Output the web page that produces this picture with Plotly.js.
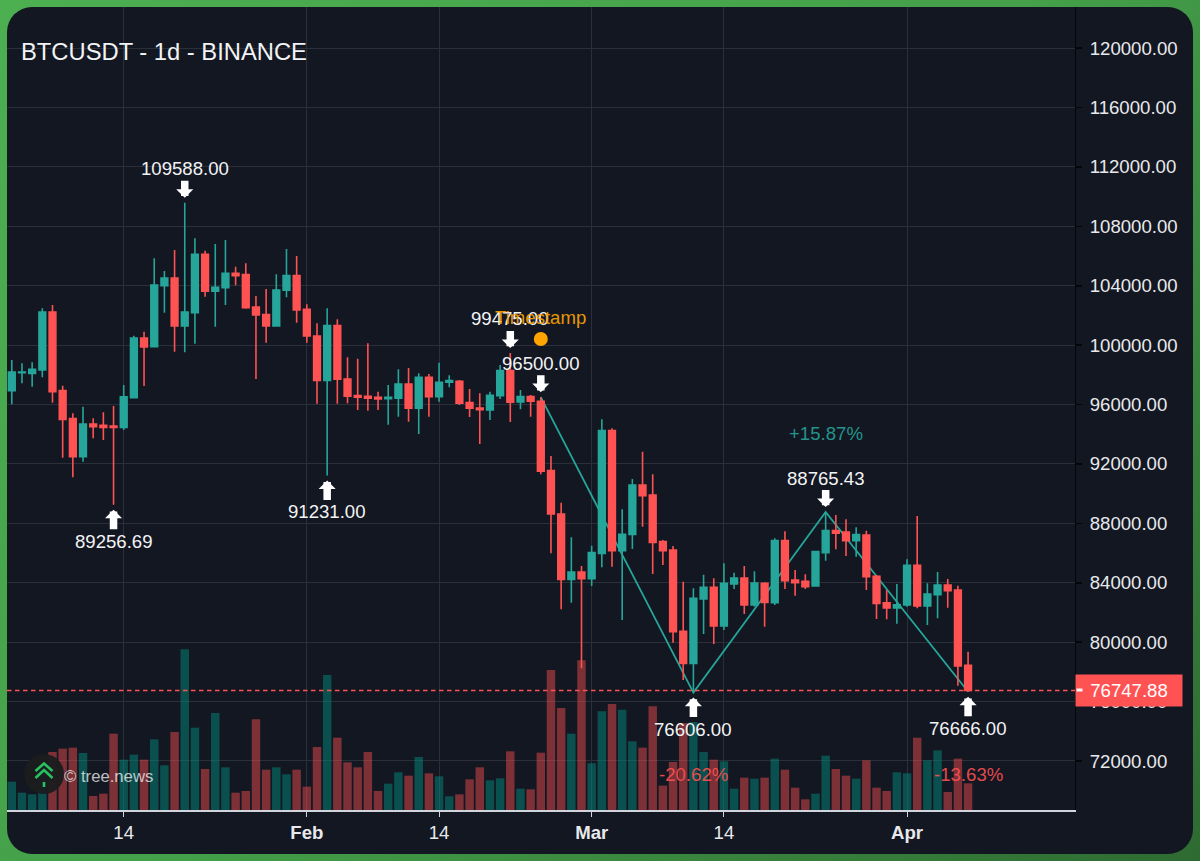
<!DOCTYPE html>
<html><head><meta charset="utf-8">
<script src="https://cdn.plot.ly/plotly-3.0.1.min.js"></script>
<style>
html,body{margin:0;padding:0;width:1200px;height:861px;overflow:hidden;background:linear-gradient(135deg,#4caf50 0%,#44a049 50%,#2e6b32 100%);}
#card{position:absolute;left:7px;top:7px;width:1186px;height:847px;border-radius:25px;background:#131722;}
#chart{position:absolute;left:0;top:0;width:1200px;height:861px;overflow:hidden;clip-path:inset(7px round 25px);}
</style></head><body>
<div id="card"></div><div id="chart"></div>
<script>
const dates=['2025-01-03','2025-01-04','2025-01-05','2025-01-06','2025-01-07','2025-01-08','2025-01-09','2025-01-10','2025-01-11','2025-01-12','2025-01-13','2025-01-14','2025-01-15','2025-01-16','2025-01-17','2025-01-18','2025-01-19','2025-01-20','2025-01-21','2025-01-22','2025-01-23','2025-01-24','2025-01-25','2025-01-26','2025-01-27','2025-01-28','2025-01-29','2025-01-30','2025-01-31',
'2025-02-01','2025-02-02','2025-02-03','2025-02-04','2025-02-05','2025-02-06','2025-02-07','2025-02-08','2025-02-09','2025-02-10','2025-02-11','2025-02-12','2025-02-13','2025-02-14','2025-02-15','2025-02-16','2025-02-17','2025-02-18','2025-02-19','2025-02-20','2025-02-21','2025-02-22','2025-02-23','2025-02-24','2025-02-25','2025-02-26','2025-02-27','2025-02-28',
'2025-03-01','2025-03-02','2025-03-03','2025-03-04','2025-03-05','2025-03-06','2025-03-07','2025-03-08','2025-03-09','2025-03-10','2025-03-11','2025-03-12','2025-03-13','2025-03-14','2025-03-15','2025-03-16','2025-03-17','2025-03-18','2025-03-19','2025-03-20','2025-03-21','2025-03-22','2025-03-23','2025-03-24','2025-03-25','2025-03-26','2025-03-27','2025-03-28','2025-03-29','2025-03-30','2025-03-31',
'2025-04-01','2025-04-02','2025-04-03','2025-04-04','2025-04-05','2025-04-06','2025-04-07'];
const opens=[96936,98148,98103,98328,102234,96936,95050,92490,94690,94601,94556,94466,96464,100483,99899,104007,104524,101291,102189,106118,103626,103873,104838,104748,102571,102054,101291,103693,104681,
102414,100617,97632,101313,97723,96601,96556,96489,96399,96421,97387,95748,97836,96533,97499,97566,96129,95770,95636,96601,98285,96174,96533,96219,91550,88631,84231,84725,
84276,85982,94244,86162,87262,90584,89911,86768,86207,80729,78574,82907,83693,81088,83917,84321,82503,83962,82660,86836,84186,84097,83783,86028,87509,87419,86836,87217,84434,82660,82301,
82503,85174,82435,83199,83850,83513,78439];
const highs=[99001,98778,98844,102481,102705,97272,95409,95858,95072,95476,95903,97317,100640,100909,105848,104995,106410,109588,107195,106365,106814,107083,105287,105512,103311,103783,104771,106477,106005,
102750,101470,102481,101740,99183,99093,100125,96870,97319,98374,98464,98105,98060,98823,97970,97656,97050,96758,96870,98666,99475,96983,96646,96500,92537,89394,87060,85129,
86498,95007,94401,88946,90988,92829,91303,86880,86476,84074,83625,84546,84299,85309,84680,85129,84770,84029,86993,87464,84860,84568,86095,88765.43,88564,88272,87734,87509,84523,83513,83917,
85578,88497,83962,84725,84254,83805,79360];
const lows=[96015,97430,97205,97834,96127,92423,91099,92154,93725,93613,89256.69,94286,96419,97250,99899,102189,99562,99517,100101,103266,101246,102705,104030,102459,97722,100168,101291,103222,101515,
100168,96060,91231,96060,96084,95636,95591,95636,94648,95187,94850,94019,95187,96197,97162,95972,95164,93346,94962,96376,94827,95680,95187,91303,85982,82210,82659,78237,
83782,85039,85084,81492,86274,87778,84590,85196,79966,77451,76606,80550,79876,80819,83580,81897,82390,81043,82503,83580,83131,83580,83783,85489,86252,85803,85758,83513,81560,81537,81246,
82390,82278,81156,81605,82323,77070,76666];
const closes=[98193,98193,98373,102234,96868,95005,92490,94690,94511,94466,94466,96531,100483,99877,104052,104524,101291,102234,106118,103626,103895,104838,104681,102526,102032,101291,103716,104681,102369,
100617,97632,101313,97700,96556,96489,96421,96376,96489,97387,95748,97836,96533,97499,97611,96084,95748,95658,96623,98285,96152,96533,96219,91505,88631,84231,84725,84276,
86027,94244,86162,87262,90584,89866,86723,86162,80707,78574,82952,83692,81088,83962,84321,82503,83984,82682,86836,84142,84007,83738,86095,87509,87330,86836,87240,84411,82615,82301,82525,
85174,82435,83244,83850,83468,78394,76747.88];
const volumes=[17.0,10.4,9.4,24.0,34.8,36.8,37.4,34.2,8.4,9.8,45.8,30.2,33.2,30.2,42.4,26.8,46.8,96.4,49.4,24.6,58.2,25.6,10.4,11.4,54.4,24.2,25.6,21.4,24.2,
14.0,37.8,81.0,43.4,28.6,25.6,34.8,11.4,15.8,22.6,20.6,31.8,22.0,20.2,8.2,9.4,18.4,25.6,17.8,19.0,35.2,12.8,12.4,34.4,84.0,61.2,45.8,89.8,
28.0,59.2,63.6,60.2,41.2,37.4,62.2,14.6,28.8,52.2,52.8,34.8,30.2,29.2,12.8,19.4,18.8,19.4,30.8,24.2,13.4,6.4,9.8,32.6,24.6,20.6,18.8,29.8,13.4,11.4,22.6,
22.0,43.4,29.8,35.8,10.8,30.8,16.0];
const zigDates=['2025-02-24','2025-03-11','2025-03-24','2025-04-07'];
const zigPrices=[96500,76606,88765.43,76666];
const highMarks=[['2025-01-20',109588],['2025-02-21',99475],['2025-02-24',96500],['2025-03-24',88765.43]];
const lowMarks=[['2025-01-13',89256.69],['2025-02-03',91231],['2025-03-11',76606],['2025-04-07',76666]];
const pctLabels=[['2025-03-24',94020,'+15.87%','#26a69a'],['2025-03-11',71120,'-20.62%','#ff5252'],['2025-04-07',71120,'-13.63%','#ff5252']];
const priceTicks=[72000,76000,80000,84000,88000,92000,96000,100000,104000,108000,112000,116000,120000];
const timeTicks=['2025-01-14','2025-02-01','2025-02-14','2025-03-01','2025-03-14','2025-04-01'];
const timeLabels=['14','<b>Feb</b>','14','<b>Mar</b>','14','<b>Apr</b>'];
const lastPrice=76747.88;
const priceRange=[68700,122770];
const timeRange=['2025-01-02 12:40','2025-04-17 12:15'];
const stampDate='2025-02-24', stampPrice=100417;

const font='"Liberation Sans",Arial,sans-serif', UP='#26a69a', DOWN='#ff5252', DAY=86400000;
const plotW=1068, plotH=803;

const traces=[
 {type:'scatter',mode:'lines',x:zigDates,y:zigPrices,xaxis:'x',yaxis:'y',line:{color:UP,width:1.8},hoverinfo:'skip',showlegend:false},
 {type:'bar',x:dates,y:volumes,xaxis:'x',yaxis:'y2',width:0.83*DAY,hoverinfo:'skip',showlegend:false,
  marker:{color:closes.map((c,i)=>c>=opens[i]?'rgba(0,150,136,0.45)':'rgba(255,82,82,0.45)'),line:{width:0}}},
 {type:'candlestick',x:dates,open:opens,high:highs,low:lows,close:closes,xaxis:'x',yaxis:'y3',whiskerwidth:0,hoverinfo:'skip',showlegend:false,
  increasing:{line:{color:UP,width:1.6},fillcolor:UP},decreasing:{line:{color:DOWN,width:1.6},fillcolor:DOWN}},
 {type:'scatter',mode:'markers',x:[stampDate],y:[stampPrice],xaxis:'x',yaxis:'y3',marker:{size:14,color:'#ffa500'},hoverinfo:'skip',showlegend:false}
];

const annotations=[];
function mark(d,p,sign){
 annotations.push({x:d,y:p,xref:'x',yref:'y3',yshift:sign<0?5:-5,text:p.toFixed(2),showarrow:true,arrowcolor:'#fff',arrowwidth:7.5,arrowhead:1,arrowsize:0.38,
  ax:0,ay:sign<0?-29:31.5,font:{family:font,size:18.6,color:'#f2f3f5'}});
}
highMarks.forEach(m=>mark(m[0],m[1],-1));
lowMarks.forEach(m=>mark(m[0],m[1],1));
annotations.push({x:stampDate,y:stampPrice,xref:'x',yref:'y3',yshift:21,text:'Timestamp',showarrow:false,opacity:0.9,font:{family:font,size:18.6,color:'#ffa500'}});
pctLabels.forEach(l=>annotations.push({x:l[0],y:l[1],xref:'x',yref:'y3',text:l[2],showarrow:false,opacity:0.88,font:{family:font,size:18.6,color:l[3]}}));
annotations.push({x:1,xanchor:'left',xref:'paper',y:lastPrice,yref:'y3',text:lastPrice.toFixed(2),showarrow:false,bgcolor:DOWN,width:106,height:31,align:'center',valign:'middle',borderpad:0,font:{family:font,size:18.6,color:'#fff'}});
annotations.push({x:1,xshift:1,xanchor:'left',xref:'paper',y:lastPrice,yref:'y3',text:' ',showarrow:false,bgcolor:'#f4f5f7',width:5,height:1.5,borderpad:0,font:{family:font,size:1,color:'#fff'}});
annotations.push({x:(62-7)/plotW,xanchor:'left',xref:'paper',y:34/plotH,yref:'paper',yanchor:'middle',text:'© tree.news',showarrow:false,font:{family:font,size:16.7,color:'rgba(255,255,255,0.72)'}});

const logo='<svg xmlns="http://www.w3.org/2000/svg" width="40" height="40" viewBox="-20 -20 40 40"><circle r="20" fill="#1a1c1e" fill-opacity="0.95"/><g fill="none" stroke="#27c25f" stroke-width="2.6"><path d="M-8.5-3 0-10.5 8.5-3"/><path d="M-8.5 4 0-4 8.5 4"/><path d="M0 8V13"/></g></svg>';

const layout={
 width:1200,height:861,margin:{l:7,r:125,t:7,b:51,pad:0},
 paper_bgcolor:'rgba(0,0,0,0)',plot_bgcolor:'rgba(0,0,0,0)',showlegend:false,dragmode:false,
 boxmode:'overlay',boxgap:0.34,boxgroupgap:0,
 title:{text:'BTCUSDT - 1d - BINANCE',x:21/1200,xanchor:'left',y:1-52/861,yanchor:'middle',yref:'container',font:{family:font,size:23.75,color:'#f2f3f5'}},
 xaxis:{type:'date',range:timeRange,tickmode:'array',tickvals:timeTicks,ticktext:timeLabels,ticks:'outside',ticklen:5,tickwidth:1,tickcolor:'#d1d4dc',
  showgrid:true,gridcolor:'#2b2f3a',gridwidth:1,showline:true,linecolor:'#d1d4dc',linewidth:2,zeroline:false,rangeslider:{visible:false},anchor:'y',
  tickfont:{family:font,size:18.6,color:'#e8e9ec'}},
 yaxis:{side:'right',range:priceRange,tickmode:'array',tickvals:priceTicks,ticktext:priceTicks.map(v=>v.toFixed(2)),ticks:'outside',ticklen:6,tickwidth:1.5,tickcolor:'#05060a',ticklabelstandoff:4,
  showgrid:true,gridcolor:'#2b2f3a',gridwidth:1,showline:true,linecolor:'#05060a',linewidth:1,zeroline:false,anchor:'x',
  tickfont:{family:font,size:18.6,color:'#e8e9ec'}},
 yaxis2:{overlaying:'y',range:[0,481.8],visible:false,fixedrange:true},
 yaxis3:{overlaying:'y',range:priceRange,visible:false,fixedrange:true},
 shapes:[{type:'line',xref:'paper',x0:0,x1:1,yref:'y',y0:lastPrice,y1:lastPrice,layer:'above',line:{color:DOWN,width:1.4,dash:'4.5px,3.5px'}}],
 annotations:annotations,
 images:[{source:'data:image/svg+xml;base64,'+btoa(logo),xref:'paper',yref:'paper',x:(24-7)/plotW,y:(810-754)/plotH,sizex:40/plotW,sizey:40/plotH,xanchor:'left',yanchor:'top',sizing:'stretch',layer:'above'}]
};
Plotly.newPlot('chart',traces,layout,{displayModeBar:false,staticPlot:true});
</script></body></html>
